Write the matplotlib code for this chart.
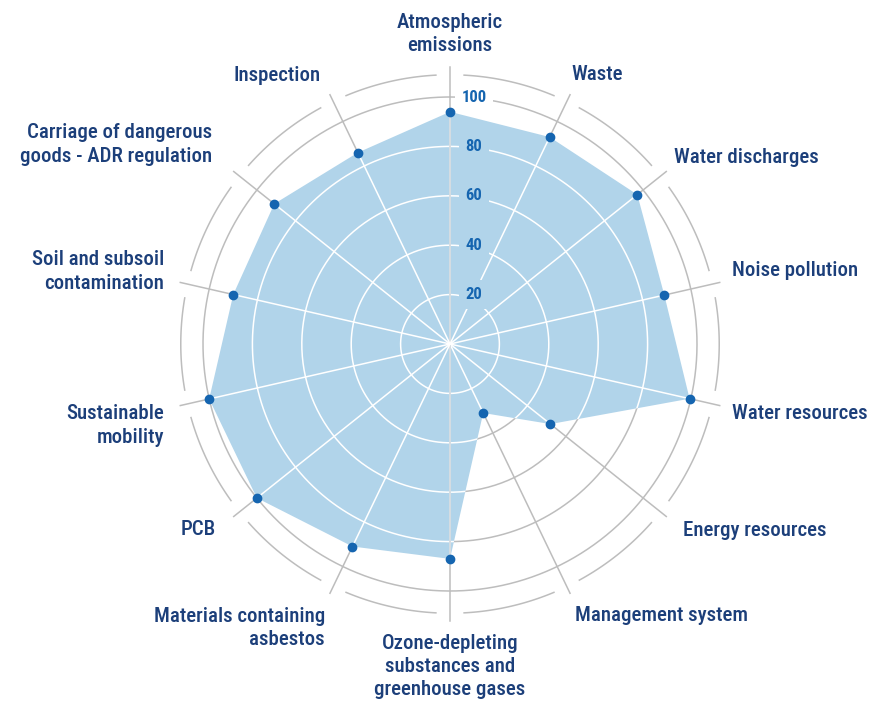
import matplotlib
matplotlib.use("Agg")
import matplotlib.pyplot as plt
import numpy as np
from matplotlib import font_manager

# pick a condensed face if one is installed
names = {f.name for f in font_manager.fontManager.ttflist}
font = "DejaVu Sans"
for cand in ["Roboto Condensed", "Liberation Sans Narrow", "DejaVu Sans Condensed"]:
    if cand in names:
        font = cand
        break
plt.rcParams["font.family"] = [font, "DejaVu Sans"]

categories = [
    "Atmospheric\nemissions", "Waste", "Water discharges", "Noise pollution",
    "Water resources", "Energy resources", "Management system",
    "Ozone-depleting\nsubstances and\ngreenhouse gases",
    "Materials containing\nasbestos", "PCB", "Sustainable\nmobility",
    "Soil and subsoil\ncontamination", "Carriage of dangerous\ngoods - ADR regulation",
    "Inspection",
]
values = [94, 93, 97, 89, 99.5, 52, 31, 87, 91, 100, 100, 90, 91, 86]
ticks = [20, 40, 60, 80, 100]

# label placement (offset from spoke end in pixels, alignment)
label_offsets = [(0, 33), (1, 20), (8, 14), (12, 12), (12, -8), (17, -14), (5, -22),
                 (0, -46), (-5, -35), (-18, -13), (-16, -20), (-16, 11), (-22, 27), (-9, 19)]
label_ha = ["center", "left", "left", "left", "left", "left", "left",
            "center", "right", "right", "right", "right", "right", "right"]

navy = "#1c3f7a"
blue = "#1565b0"
fill_col = "#b1d4ea"
gray = "#bdbdbd"

n = len(categories)
theta = np.arange(n) * 2 * np.pi / n

fig = plt.figure(figsize=(8.74, 7.06), dpi=100)
rmax = 115
scale = 2.47  # px per unit
half = rmax * scale
ax = fig.add_axes([(450 - half) / 874, (362 - half) / 706, 2 * half / 874, 2 * half / 706],
                  projection="polar")
ax.set_theta_zero_location("N")
ax.set_theta_direction(-1)
ax.set_ylim(0, rmax)
ax.axis("off")

tt = np.linspace(0, 2 * np.pi, 400)
for r in ticks:
    ax.plot(tt, np.full_like(tt, r), color=gray, lw=1.1, zorder=1)
for t in theta:
    ax.plot([t, t], [0, 112], color=gray, lw=1.1, zorder=1)

# outer broken ring
gap = np.radians(3)
for i in range(n):
    a = np.linspace(theta[i] + gap, theta[i] + 2 * np.pi / n - gap, 50)
    ax.plot(a, np.full_like(a, 109), color=gray, lw=1.1, zorder=1)

th_c = np.append(theta, theta[0])
v_c = np.append(values, values[0])
poly = ax.fill(th_c, v_c, color=fill_col, lw=0, zorder=2)[0]

for r in ticks:
    ln, = ax.plot(tt, np.full_like(tt, r), color="white", lw=1.1, zorder=3)
    ln.set_clip_path(poly)
for i, t in enumerate(theta):
    c = "#d6dde2" if i in (0, 7) else "white"
    ln, = ax.plot([t, t], [0, 112], color=c, lw=1.4 if i in (0, 7) else 1.1, zorder=3)
    ln.set_clip_path(poly)

ax.plot(theta, values, "o", color=blue, ms=6, zorder=5, clip_on=False)

for r in ticks:
    bg = "white" if r == 100 else fill_col
    ax.annotate(str(r), xy=(0, r), xytext=(24, 0), textcoords="offset pixels",
                ha="center", va="center", fontsize=12, fontweight="bold", color=blue,
                zorder=4, bbox=dict(boxstyle="square,pad=0.4", fc=bg, ec="none"))

for i, lab in enumerate(categories):
    ax.annotate(lab, xy=(theta[i], 112), xytext=label_offsets[i], textcoords="offset pixels",
                ha=label_ha[i], va="center", fontsize=15, fontweight="medium", color=navy,
                linespacing=1.28, annotation_clip=False)

fig.savefig("out.png", dpi=100)
